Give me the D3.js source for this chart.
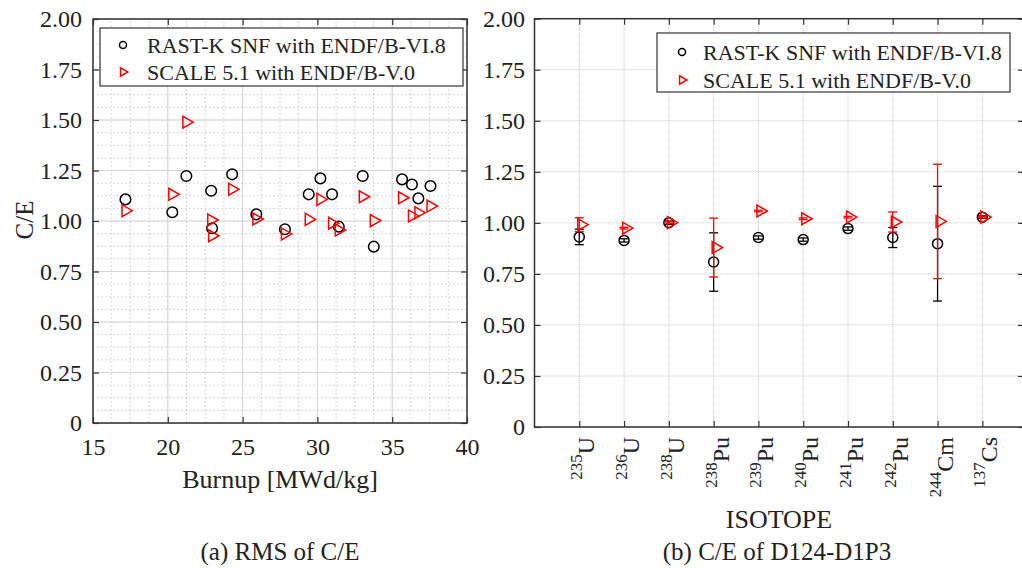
<!DOCTYPE html>
<html>
<head>
<meta charset="utf-8">
<script src="https://cdn.jsdelivr.net/npm/d3@7"></script>
<style>
  body { margin: 0; background: #fff; }
  text { font-family: "Liberation Serif", "Times New Roman", serif; fill: #222; }
</style>
</head>
<body>
<svg id="chart" width="1022" height="568"></svg>
<script>
// (a) RMS of C/E vs burnup
const burnup   = [17.17, 20.3, 21.24, 22.9, 22.96, 24.3, 25.92, 27.83, 29.42, 30.2, 30.98, 31.43, 33.03, 33.77, 35.66, 36.32, 36.75, 37.56];
const rastRms  = [1.107, 1.043, 1.223, 1.150, 0.964, 1.231, 1.033, 0.959, 1.132, 1.211, 1.132, 0.972, 1.223, 0.873, 1.206, 1.181, 1.112, 1.173];
const scaleRms = [1.051, 1.132, 1.489, 1.005, 0.927, 1.157, 1.010, 0.936, 1.008, 1.107, 0.989, 0.955, 1.120, 1.002, 1.115, 1.025, 1.041, 1.074];

// (b) C/E of D124-D1P3 per isotope
const isoMass   = ["235", "236", "238", "238", "239", "240", "241", "242", "244", "137"];
const isoSym    = ["U", "U", "U", "Pu", "Pu", "Pu", "Pu", "Pu", "Cm", "Cs"];
const rastCE    = [0.931, 0.914, 1.001, 0.808, 0.928, 0.918, 0.972, 0.928, 0.898, 1.028];
const rastErr   = [0.038, 0.008, 0.008, 0.143, 0.008, 0.008, 0.008, 0.049, 0.281, 0.006];
const scaleCE   = [0.991, 0.974, 1.001, 0.879, 1.058, 1.020, 1.028, 1.004, 1.007, 1.028];
const scaleErr  = [0.034, 0.004, 0.004, 0.144, 0.004, 0.004, 0.004, 0.049, 0.280, 0.004];

const yTicks      = [0, 0.25, 0.5, 0.75, 1, 1.25, 1.5, 1.75, 2];
const burnupTicks = [15, 20, 25, 30, 35, 40];
const legendLabels = ["RAST-K SNF with ENDF/B-VI.8", "SCALE 5.1 with ENDF/B-V.0"];

const svg = d3.select("#chart");
const fmtY = d => d === 0 ? "0" : d3.format(".2f")(d);
const tri = d3.symbol(d3.symbolTriangle, 62);
const triSmall = d3.symbol(d3.symbolTriangle, 30);

const circles = (g, pts, r) => g.selectAll(null).data(pts).enter().append("circle")
  .attr("cx", d => d[0]).attr("cy", d => d[1]).attr("r", r)
  .attr("fill", "none").attr("stroke", "#000").attr("stroke-width", 1.5);

const triangles = (g, pts, sym) => g.selectAll(null).data(pts).enter().append("path")
  .attr("d", sym)
  .attr("transform", d => `translate(${d[0]},${d[1]}) rotate(90)`)
  .attr("fill", "none").attr("stroke", "#ff0000").attr("stroke-width", 1.5);

function frameAxes(g, x, y, xTicks, showXLabels, pad) {
  const [x0, x1] = x.range();
  const [y0, y1] = y.range();
  const style = a => {
    a.select(".domain").remove();
    a.selectAll("line").attr("stroke", "#333").attr("stroke-width", 1.2);
    a.selectAll("text").attr("font-size", 24).attr("fill", "#222")
      .attr("font-family", "Liberation Serif, serif");
  };
  g.append("g").attr("transform", `translate(0,${y0})`)
    .call(d3.axisBottom(x).tickValues(xTicks).tickSize(-6).tickPadding(15)
      .tickFormat(showXLabels ? d3.format("d") : ""))
    .call(style);
  g.append("g").attr("transform", `translate(0,${y1})`)
    .call(d3.axisTop(x).tickValues(xTicks).tickSize(-6).tickFormat(""))
    .call(style);
  g.append("g").attr("transform", `translate(${x0},0)`)
    .call(d3.axisLeft(y).tickValues(yTicks).tickSize(-6).tickPadding(pad).tickFormat(fmtY))
    .call(style);
  g.append("g").attr("transform", `translate(${x1},0)`)
    .call(d3.axisRight(y).tickValues(yTicks).tickSize(-6).tickFormat(""))
    .call(style);
  g.append("rect").attr("x", x0).attr("y", y1).attr("width", x1 - x0).attr("height", y0 - y1)
    .attr("fill", "none").attr("stroke", "#333").attr("stroke-width", 1.5);
}

function legend(g, bx, by, bw, bh, mx, tx, rows) {
  g.append("rect").attr("x", bx).attr("y", by).attr("width", bw).attr("height", bh)
    .attr("fill", "#fff").attr("stroke", "#333").attr("stroke-width", 1.2);
  circles(g, [[mx, rows[0]]], 3.5);
  triangles(g, [[mx, rows[1]]], triSmall);
  g.selectAll(null).data(legendLabels).enter().append("text")
    .attr("x", tx).attr("y", (d, i) => rows[i]).attr("dy", "0.35em")
    .attr("font-size", 22).text(d => d);
}

// ---------- panel (a) ----------
const xa = d3.scaleLinear().domain([15, 40]).range([93, 467]);
const ya = d3.scaleLinear().domain([0, 2]).range([423, 19]);
const ga = svg.append("g");

const minorX = d3.range(15, 40.001, 1.25);
const minorY = d3.range(0, 2.001, 0.0625);
ga.selectAll(null).data(minorX).enter().append("line")
  .attr("x1", d => xa(d)).attr("x2", d => xa(d)).attr("y1", ya(0)).attr("y2", ya(2))
  .attr("stroke", "#bdbdbd").attr("stroke-width", 0.8).attr("stroke-dasharray", "1.5,2.5");
ga.selectAll(null).data(minorY).enter().append("line")
  .attr("y1", d => ya(d)).attr("y2", d => ya(d)).attr("x1", xa(15)).attr("x2", xa(40))
  .attr("stroke", "#bdbdbd").attr("stroke-width", 0.8).attr("stroke-dasharray", "1.5,2.5");
ga.selectAll(null).data(burnupTicks).enter().append("line")
  .attr("x1", d => xa(d)).attr("x2", d => xa(d)).attr("y1", ya(0)).attr("y2", ya(2))
  .attr("stroke", "#d6d6d6").attr("stroke-width", 1);
ga.selectAll(null).data(yTicks).enter().append("line")
  .attr("y1", d => ya(d)).attr("y2", d => ya(d)).attr("x1", xa(15)).attr("x2", xa(40))
  .attr("stroke", "#d6d6d6").attr("stroke-width", 1);

frameAxes(ga, xa, ya, burnupTicks, true, 11);

circles(ga, burnup.map((b, i) => [xa(b), ya(rastRms[i])]), 5.3);
triangles(ga, burnup.map((b, i) => [xa(b), ya(scaleRms[i])]), tri);

legend(ga, 100, 28, 363, 58, 123, 147, [45, 72]);

ga.append("text").attr("transform", "translate(33,220) rotate(-90)")
  .attr("text-anchor", "middle").attr("font-size", 25).text("C/E");
ga.append("text").attr("x", 280).attr("y", 488).attr("text-anchor", "middle")
  .attr("font-size", 26).text("Burnup [MWd/kg]");
ga.append("text").attr("x", 280).attr("y", 560).attr("text-anchor", "middle")
  .attr("font-size", 25).text("(a) RMS of C/E");

// ---------- panel (b) ----------
const xb = d3.scaleLinear().domain([0, 10.93]).range([534.5, 1024]);
const yb = d3.scaleLinear().domain([0, 2]).range([427, 18.7]);
const gb = svg.append("g");
const catPos = isoSym.map((s, i) => i + 1);

gb.selectAll(null).data(catPos).enter().append("line")
  .attr("x1", d => xb(d)).attr("x2", d => xb(d)).attr("y1", yb(0)).attr("y2", yb(2))
  .attr("stroke", "#c4c4c4").attr("stroke-width", 1).attr("stroke-dasharray", "1,1");
gb.selectAll(null).data(yTicks).enter().append("line")
  .attr("y1", d => yb(d)).attr("y2", d => yb(d)).attr("x1", xb.range()[0]).attr("x2", xb.range()[1])
  .attr("stroke", "#c4c4c4").attr("stroke-width", 1).attr("stroke-dasharray", "1,1");

frameAxes(gb, xb, yb, catPos, false, 9.5);

function errorBars(g, vals, errs, color) {
  const eg = g.append("g").attr("stroke", color).attr("stroke-width", 1.3);
  vals.forEach((v, i) => {
    const cx = xb(i + 1), top = yb(v + errs[i]), bot = yb(v - errs[i]);
    eg.append("line").attr("x1", cx).attr("x2", cx).attr("y1", top).attr("y2", bot);
    eg.append("line").attr("x1", cx - 4.5).attr("x2", cx + 4.5).attr("y1", top).attr("y2", top);
    eg.append("line").attr("x1", cx - 4.5).attr("x2", cx + 4.5).attr("y1", bot).attr("y2", bot);
  });
}
errorBars(gb, rastCE, rastErr, "#000");
circles(gb, rastCE.map((v, i) => [xb(i + 1), yb(v)]), 5);
errorBars(gb, scaleCE, scaleErr, "#ff0000");
triangles(gb, scaleCE.map((v, i) => [xb(i + 1) + 2, yb(v)]), tri);

const lbl = gb.selectAll(null).data(catPos).enter().append("text")
  .attr("transform", d => `translate(${xb(d) + 15},437) rotate(-90)`)
  .attr("text-anchor", "end");
lbl.append("tspan").attr("font-size", 17).attr("dy", -12).text((d, i) => isoMass[i]);
lbl.append("tspan").attr("font-size", 24).attr("dy", 12).text((d, i) => isoSym[i]);

gb.append("text").attr("x", 779).attr("y", 528).attr("text-anchor", "middle")
  .attr("font-size", 26).text("ISOTOPE");
gb.append("text").attr("x", 777).attr("y", 560).attr("text-anchor", "middle")
  .attr("font-size", 25).text("(b) C/E of D124-D1P3");

legend(gb, 657, 33, 353, 59, 682, 703, [52, 80]);
</script>
</body>
</html>
